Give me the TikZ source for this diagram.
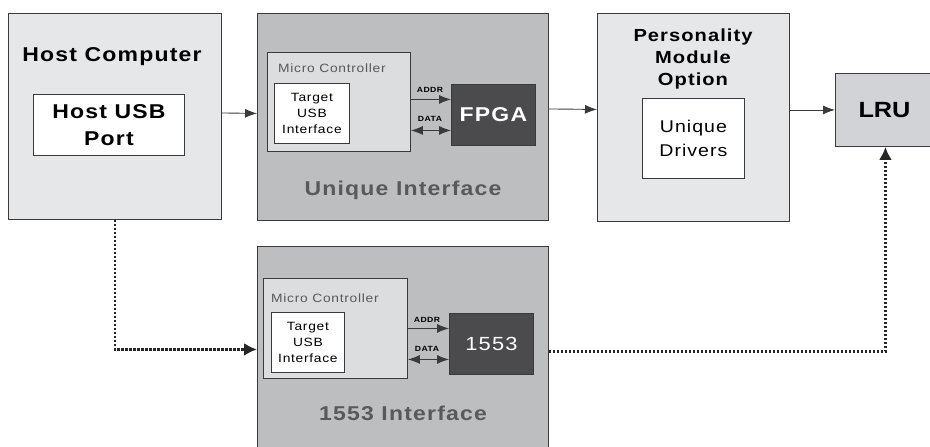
\documentclass[tikz,border=0pt]{standalone}
\usepackage{fontspec}
\setmainfont[LetterSpace=6, FakeStretch=1.15]{Liberation Sans}
\usetikzlibrary{arrows.meta}
\usetikzlibrary{positioning}
\definecolor{edgegray}{HTML}{3A3A3C}
\definecolor{palegray}{HTML}{E6E7E9}
\definecolor{midgray}{HTML}{BDBEC0}
\definecolor{mcugray}{HTML}{DCDDDF}
\definecolor{lrugray}{HTML}{D2D3D7}
\definecolor{chipgray}{HTML}{4B4B4D}
\definecolor{labelgray}{HTML}{58595B}
\tikzset{
	box/.style = {draw=edgegray, line width=0.9pt, anchor=north west,
		inner sep=0pt, align=center},
	blk_h/.style = {box, fill=palegray},% host, personality
	blk_u/.style = {box, fill=midgray},% interface boards
	blk_m/.style = {box, fill=mcugray},% micro controller
	blk_w/.style = {box, fill=white},% inner white boxes
	blk_c/.style = {box, fill=chipgray, text=white},% FPGA, 1553
	ttl/.style = {font=\bfseries\fontsize{20}{27}\selectfont, inner sep=0pt},
	small/.style = {font=\fontsize{12}{16}\selectfont},
	tiny/.style = {font=\bfseries\fontsize{7.5}{9}\selectfont, inner sep=0pt},
	link/.style = {line width=0.9pt, draw=edgegray, -{Latex[length=12pt,width=9pt]}},
	dlink/.style = {link, {Latex[length=12pt,width=9pt]}-{Latex[length=12pt,width=9pt]}},
	dotlink/.style = {line width=2.6pt, dash pattern=on 2.4pt off 1.6pt,
		draw=black!85, -{Latex[length=13pt,width=13pt]}}
}
\begin{document}
\begin{tikzpicture}[x=1pt,y=-1pt]
	\useasboundingbox (0,0) rectangle (930,447);
	% host
	\node[blk_h, minimum width=213pt, minimum height=206pt] (host) at (8,13) {};
	\node[ttl, anchor=base] (hostlbl) at (112,61) {Host Computer};
	\node[blk_w, ttl, minimum width=151pt, minimum height=61pt] (port) at (33,94) {Host USB\\Port};
	% unique interface
	\node[blk_u, minimum width=291pt, minimum height=207pt] (uniq) at (257,13) {};
	\node[blk_m, minimum width=143pt, minimum height=99pt] (mcu1) at (267,52) {};
	\node[small, text=labelgray, anchor=base west, inner sep=0pt] (mcu1lbl) at (278,72) {Micro Controller};
	\node[blk_w, small, minimum width=75pt, minimum height=60pt] (tgt1) at (274,83) {Target\\USB\\Interface};
	\node[blk_c, ttl, minimum width=84pt, minimum height=61pt] (fpga) at (451,84) {FPGA};
	\node[ttl, text=labelgray, anchor=base] (uniqlbl) at (403,195) {Unique Interface};
	\coordinate (a1) at ([yshift=15.5pt]fpga.west);
	\coordinate (d1) at ([yshift=-15.5pt]fpga.west);
	\draw[link] (a1 -| mcu1.east) -- (a1);
	\draw[dlink] (d1 -| mcu1.east) -- (d1);
	\node[tiny, anchor=base] (addr1) at (430,92) {ADDR};
	\node[tiny, anchor=base] (data1) at (430,121) {DATA};
	% 1553 interface
	\node[blk_u, minimum width=291pt, minimum height=214pt] (bus) at (257,246) {};
	\node[blk_m, minimum width=144pt, minimum height=100pt] (mcu2) at (263,278) {};
	\node[small, text=labelgray, anchor=base west, inner sep=0pt] (mcu2lbl) at (271,302) {Micro Controller};
	\node[blk_w, small, minimum width=73pt, minimum height=60pt] (tgt2) at (271,312) {Target\\USB\\Interface};
	\node[blk_c, font=\fontsize{19}{24}\selectfont, minimum width=84pt, minimum height=61pt] (chip) at (449,313) {1553};
	\node[ttl, text=labelgray, anchor=base] (buslbl) at (403,420) {1553 Interface};
	\coordinate (a2) at ([yshift=15.5pt]chip.west);
	\coordinate (d2) at ([yshift=-15.5pt]chip.west);
	\draw[link] (a2 -| mcu2.east) -- (a2);
	\draw[dlink] (d2 -| mcu2.east) -- (d2);
	\node[tiny, anchor=base] (addr2) at (427,322) {ADDR};
	\node[tiny, anchor=base] (data2) at (427,351) {DATA};
	% personality module
	\node[blk_h, minimum width=192pt, minimum height=208pt] (pers) at (597,13) {};
	\node[font=\bfseries\fontsize{17.5}{22.3}\selectfont, align=center, inner sep=0pt] (perslbl) at (693,59) {Personality\\Module\\Option};
	\node[blk_w, font=\fontsize{17}{23.3}\selectfont, minimum width=102pt, minimum height=80pt] (drv) at (642,98) {Unique\\Drivers};
	% LRU
	\node[box, fill=lrugray, minimum width=100pt, minimum height=73pt] (lru) at (835,73) {};
	\node[font=\bfseries\fontsize{22}{26}\selectfont\addfontfeature{LetterSpace=0}, inner sep=0pt] (lrulbl) at (884.5,110) {LRU};
	% connectors
	\draw[link] ([yshift=3.5pt]host.east) -- ([yshift=3.5pt]uniq.west);
	\draw[link] ([yshift=8pt]uniq.east) -- ([yshift=8pt]pers.west);
	\draw[link] (pers.east |- lru.west) -- (lru.west);
	\coordinate (busin) at ([yshift=-5.5pt]chip.west);
	\coordinate (busout) at ([yshift=-7.5pt]chip.east);
	\draw[dotlink] (host.south) |- (busin -| bus.west);
	\draw[dotlink] (busout -| bus.east) -| (lru.south);
\end{tikzpicture}
\end{document}
